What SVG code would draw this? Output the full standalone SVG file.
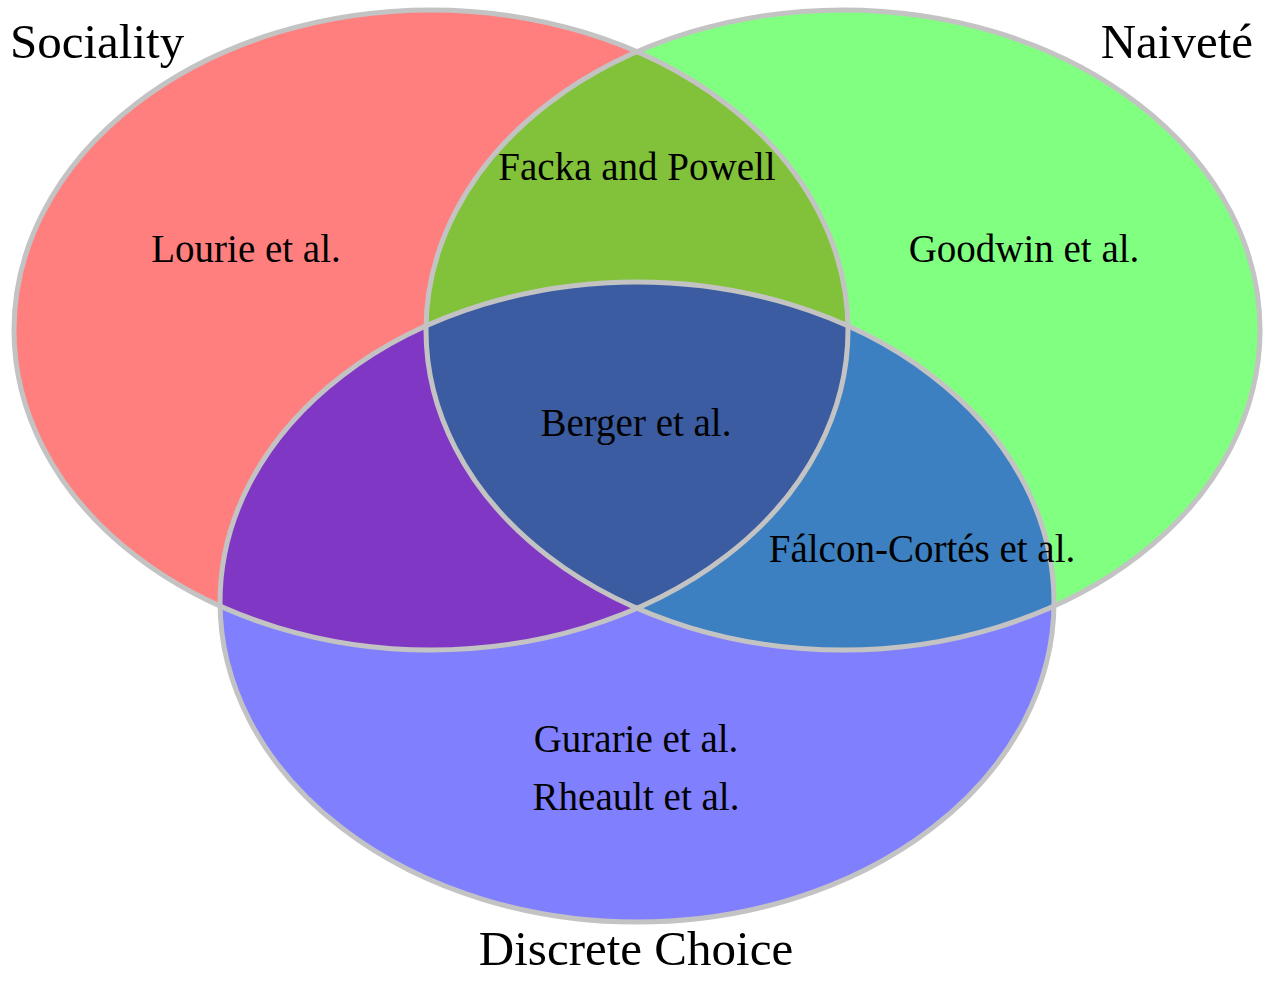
<svg xmlns="http://www.w3.org/2000/svg" width="1270" height="982" viewBox="0 0 1270 982">
<style>
.lbl{font-family:"Liberation Serif","Times New Roman",serif;fill:#000;}
.title{font-size:49px;}
.item{font-size:39px;text-anchor:middle;}
.edge{fill:none;stroke:#C3C3C3;stroke-width:5;}
</style>
<defs>
<ellipse id="eA" cx="431" cy="330" rx="417" ry="320"/>
<ellipse id="eB" cx="843" cy="330" rx="417" ry="320"/>
<ellipse id="eC" cx="637" cy="602" rx="417" ry="320"/>
<clipPath id="clipB"><use href="#eB"/></clipPath>
<clipPath id="clipC"><use href="#eC"/></clipPath>
</defs>
<rect width="1270" height="982" fill="#fff"/>
<g id="set-sociality">
<use href="#eA" fill="#FF7F7F"/>
</g>
<g id="set-naivete">
<use href="#eB" fill="#80FF80"/>
</g>
<g id="set-discrete-choice">
<use href="#eC" fill="#8080FF"/>
</g>
<g id="overlap-sociality-naivete">
<use href="#eA" fill="#82C23A" clip-path="url(#clipB)"/>
</g>
<g id="overlap-sociality-discrete">
<use href="#eA" fill="#8038C4" clip-path="url(#clipC)"/>
</g>
<g id="overlap-naivete-discrete">
<use href="#eB" fill="#3C80C2" clip-path="url(#clipC)"/>
</g>
<g id="overlap-all" clip-path="url(#clipC)">
<use href="#eA" fill="#3B5CA0" clip-path="url(#clipB)"/>
</g>
<g id="outlines">
<use href="#eA" class="edge"/>
<use href="#eB" class="edge"/>
<use href="#eC" class="edge"/>
</g>
<g id="labels">
<text class="lbl title" x="10" y="58">Sociality</text>
<text class="lbl title" x="1253" y="58" text-anchor="end">Naiveté</text>
<text class="lbl title" x="636" y="965" text-anchor="middle">Discrete Choice</text>
<text class="lbl item" x="246" y="262">Lourie et al.</text>
<text class="lbl item" x="637" y="180">Facka and Powell</text>
<text class="lbl item" x="1024" y="262">Goodwin et al.</text>
<text class="lbl item" x="636" y="436">Berger et al.</text>
<text class="lbl item" x="922" y="562">Fálcon-Cortés et al.</text>
<text class="lbl item" x="636" y="752">Gurarie et al.</text>
<text class="lbl item" x="636" y="810">Rheault et al.</text>
</g>
</svg>
